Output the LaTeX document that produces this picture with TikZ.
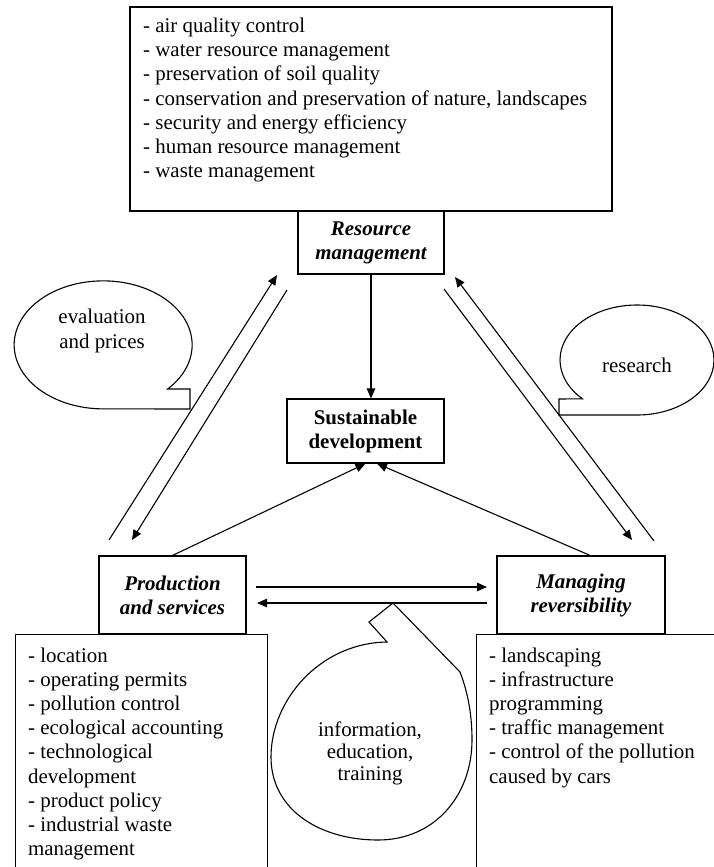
\documentclass[tikz,border=0pt]{standalone}
\usepackage{fontspec}
\setmainfont{Liberation Serif}
\usetikzlibrary{arrows.meta,calc}
\begin{document}
\begin{tikzpicture}[x=1pt,y=-1pt,
  every node/.style={font=\fontsize{20.9}{24.2}\selectfont, inner sep=0pt},
  box/.style={draw, line width=1.1pt, rectangle},
  head/.style={align=center, font=\fontsize{20.9}{24}\selectfont\bfseries\itshape},
  plainhead/.style={align=center, font=\fontsize{20.9}{24}\selectfont\bfseries},
  % lists are placed by the baseline of their last line
  list/.style={align=left, anchor=base west},
  conn/.style={line width=1.1pt, -{Triangle[length=10pt,width=8.5pt]}},
  bubble/.style={draw, line width=1.1pt, line join=miter},
  bubbletext/.style={align=center}]
\clip (0,0) rectangle (714,867);
\fill[white] (0,0) rectangle (714,867);

% resource management block
\node[box, minimum width=482pt, minimum height=204pt] (resbox) at (371,109) {};
\node[list] (reslist) at (143,177.7) {- air quality control\\
- water resource management\\
- preservation of soil quality\\
- conservation and preservation of nature, landscapes\\
- security and energy efficiency\\
- human resource management\\
- waste management};
\node[box, fill=white, minimum width=146pt, minimum height=63pt, head] (rm) at (371,242.5) {Resource\\management};

% centre
\node[box, minimum width=157pt, minimum height=64pt, plainhead] (sd) at (365.5,431) {Sustainable\\development};

% lower blocks
\node[box, minimum width=252pt, minimum height=300pt, anchor=north west] (psbox) at (15,634) {};
\node[box, minimum width=262pt, minimum height=300pt, anchor=north west] (mrbox) at (476,634) {};
\node[box, fill=white, minimum width=147pt, minimum height=78pt, head] (ps) at (172.5,595) {Production\\and services};
\node[box, fill=white, minimum width=168pt, minimum height=78pt, head] (mr) at (581,595) {Managing\\reversibility};
\node[list] (pslist) at (28,855.6) {- location\\
- operating permits\\
- pollution control\\
- ecological accounting\\
- technological\\
development\\
- product policy\\
- industrial waste\\
management};
\node[list] (mrlist) at (489,783) {- landscaping\\
- infrastructure\\
programming\\
- traffic management\\
- control of the pollution\\
caused by cars};

% free ends of the paired arrows
\coordinate (lu0) at (109,540);
\coordinate (lu1) at (277,275);
\coordinate (ld0) at (287,290);
\coordinate (ld1) at (132,540);
\coordinate (ru0) at (654,541);
\coordinate (ru1) at (455,277);
\coordinate (rd0) at (444,289);
\coordinate (rd1) at (632,540);
\coordinate (hr0) at (256,587);
\coordinate (hr1) at (487,587);
\coordinate (hl0) at (487,603);
\coordinate (hl1) at (257,603);

% connectors
\draw[conn] (rm.south) -- (rm.south |- sd.north);
\draw[conn] (ps.north) -- (sd.south);
\draw[conn] ($(mr.north west)!0.554!(mr.north east)$) -- ($(sd.south)+(11.5,0)$);
\draw[conn] (lu0) -- (lu1);
\draw[conn] (ld0) -- (ld1);
\draw[conn] (ru0) -- (ru1);
\draw[conn] (rd0) -- (rd1);
\draw[conn] (hr0) -- (hr1);
\draw[conn] (hl0) -- (hl1);

% callouts
\draw[bubble] (167.6,389) arc[start angle=43.6, end angle=-270, x radius=89, y radius=64]
  -- (190,409) -- (190,389) -- cycle;
\node[bubbletext] (evtxt) at (102,331) {evaluation\\and prices};

\draw[bubble] (637,415) arc[start angle=90, end angle=-224.9, x radius=77, y radius=55]
  -- (559,399) -- (559,415) -- cycle;
\node[bubbletext] (retxt) at (637,365) {research};

\draw[bubble] (393,603) -- (369,622) -- (387,642)
  .. controls (320,643) and (271,700) .. (271,757)
  .. controls (271,810) and (320,840) .. (378,840)
  .. controls (435,840) and (472,795) .. (472,740)
  .. controls (472,712) and (467,690) .. (460,672) -- cycle;
\node[bubbletext, font=\fontsize{20.9}{22}\selectfont] (intxt) at (370,753.5) {information,\\education,\\training};
\end{tikzpicture}
\end{document}
